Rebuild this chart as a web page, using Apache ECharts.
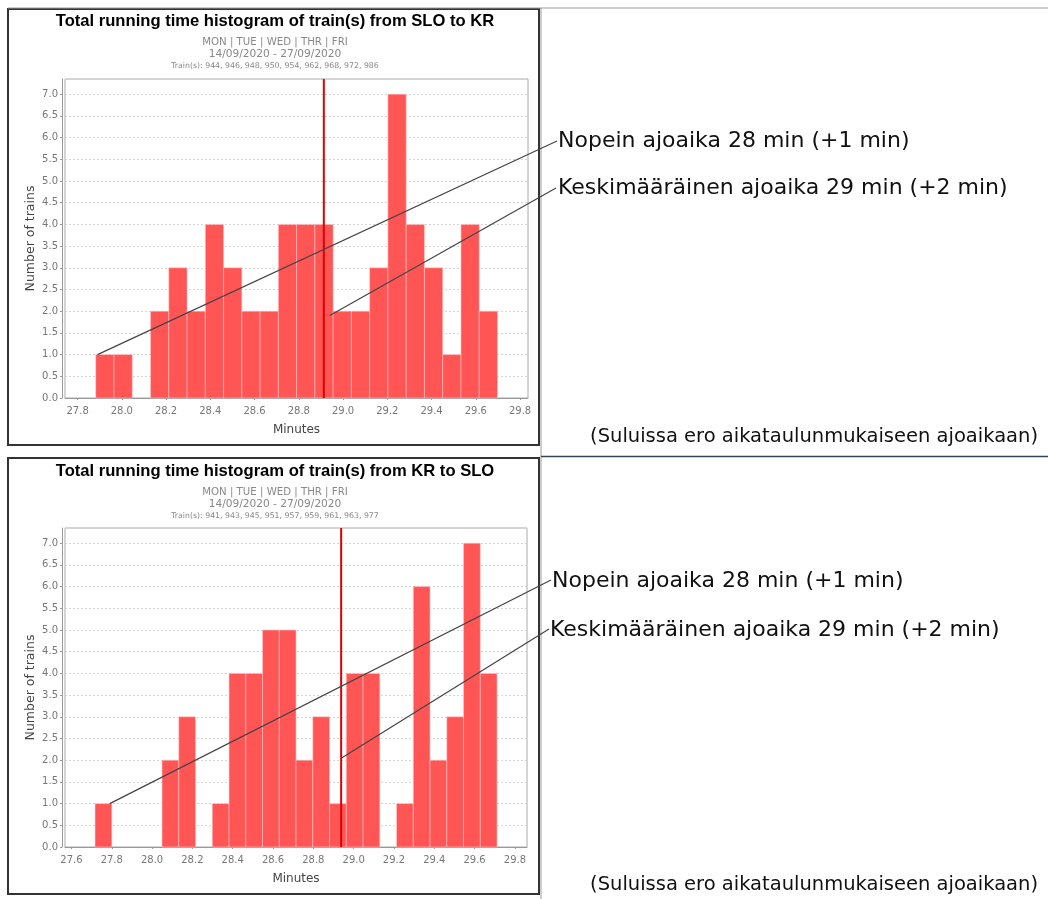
<!DOCTYPE html>
<html>
<head>
<meta charset="utf-8">
<script src="https://cdn.jsdelivr.net/npm/echarts@6/dist/echarts.min.js"></script>
<style>
html,body{margin:0;padding:0;background:#fff;}
#c{width:1048px;height:899px;}
</style>
</head>
<body>
<div id="c"></div>
<script>
// ---------- data ----------
const topTitle = "Total running time histogram of train(s) from SLO to KR";
const botTitle = "Total running time histogram of train(s) from KR to SLO";
const daysText = "MON | TUE | WED | THR | FRI";
const dateText = "14/09/2020 - 27/09/2020";
const topTrains = "Train(s): 944, 946, 948, 950, 954, 962, 968, 972, 986";
const botTrains = "Train(s): 941, 943, 945, 951, 957, 959, 961, 963, 977";

const topBinStart = 27.882;
const topBinWidth = 0.08255;
const topCounts = [1, 1, 0, 2, 3, 2, 4, 3, 2, 2, 4, 4, 4, 2, 2, 3, 7, 4, 3, 1, 4, 2];
const topMeanLine = 28.913;

const botBinStart = 27.717;
const botBinWidth = 0.0831;
const botCounts = [1, 0, 0, 0, 2, 3, 0, 1, 4, 4, 5, 5, 2, 3, 1, 4, 4, 0, 1, 6, 2, 3, 7, 4];
const botMeanLine = 28.938;

const topXTicks = [27.8, 28.0, 28.2, 28.4, 28.6, 28.8, 29.0, 29.2, 29.4, 29.6, 29.8];
const botXTicks = [27.6, 27.8, 28.0, 28.2, 28.4, 28.6, 28.8, 29.0, 29.2, 29.4, 29.6, 29.8];
const topXRange = [27.743, 29.836];
const botXRange = [27.568, 29.86];
const yMax = 7.35;

const noteFast = "Nopein ajoaika 28 min (+1 min)";
const noteMean = "Keskimääräinen ajoaika 29 min (+2 min)";
const noteParen = "(Suluissa ero aikataulunmukaiseen ajoaikaan)";
// anchor points of leader lines, in data units [minutes, trains]
const topAnchors = [[27.89, 1.0], [28.94, 1.9]];
const botAnchors = [[27.79, 1.0], [28.94, 2.05]];

// ---------- build ----------
function bins(start, w, counts) {
  return counts.map((c, i) => [start + i * w, start + (i + 1) * w, c]);
}

const chart = echarts.init(document.getElementById('c'), null, {renderer: 'canvas'});

const FONT = 'DejaVu Sans';
function xAxisFor(gi, range, ticks) {
  return {
    type: 'value', gridIndex: gi, min: range[0], max: range[1],
    offset: 3,
    name: 'Minutes', nameLocation: 'middle', nameGap: 23,
    nameTextStyle: {color: '#444', fontFamily: FONT, fontSize: 12},
    axisLine: {show: true, lineStyle: {color: '#999', width: 1}},
    axisTick: {show: true, customValues: ticks, length: 2, lineStyle: {color: '#999'}},
    axisLabel: {customValues: ticks, color: '#777', fontFamily: FONT, fontSize: 10, margin: 5,
      formatter: v => Number(v).toFixed(1)},
    splitLine: {show: false}
  };
}
function yAxisFor(gi) {
  return {
    type: 'value', gridIndex: gi, min: 0, max: yMax, interval: 0.5,
    offset: 3,
    name: 'Number of trains', nameLocation: 'middle', nameGap: 25,
    nameTextStyle: {color: '#444', fontFamily: FONT, fontSize: 12.5},
    axisLine: {show: true, lineStyle: {color: '#999', width: 1}},
    axisTick: {show: true, length: 2, lineStyle: {color: '#999'}},
    axisLabel: {color: '#777', fontFamily: FONT, fontSize: 10, margin: 4, showMaxLabel: false,
      formatter: v => Number(v).toFixed(1)},
    splitLine: {show: true, lineStyle: {color: '#d4d4d4', type: [2, 2], width: 1}}
  };
}
function histSeries(gi, data) {
  return {
    type: 'custom', xAxisIndex: gi, yAxisIndex: gi,
    data: data, encode: {x: [0, 1], y: 2},
    renderItem: function (params, api) {
      const c = api.value(2);
      if (!c) return null;
      const p0 = api.coord([api.value(0), c]);
      const p1 = api.coord([api.value(1), 0]);
      return {type: 'rect',
        shape: {x: p0[0], y: p0[1], width: p1[0] - p0[0], height: p1[1] - p0[1]},
        style: {fill: '#ff5555', stroke: 'rgba(255,200,200,0.7)', lineWidth: 0.8}};
    },
    silent: true, z: 2
  };
}
function meanSeries(gi, x) {
  return {
    type: 'line', xAxisIndex: gi, yAxisIndex: gi,
    data: [[x, 0], [x, yMax]], symbol: 'none', silent: true, z: 3,
    lineStyle: {color: '#e00000', width: 2}
  };
}

chart.setOption({
  animation: false,
  backgroundColor: '#fff',
  grid: [
    {left: 65, top: 79, width: 463, height: 319, show: true, backgroundColor: '#fff', borderColor: '#aaa', borderWidth: 1},
    {left: 65, top: 528, width: 462, height: 319, show: true, backgroundColor: '#fff', borderColor: '#aaa', borderWidth: 1}
  ],
  xAxis: [xAxisFor(0, topXRange, topXTicks), xAxisFor(1, botXRange, botXTicks)],
  yAxis: [yAxisFor(0), yAxisFor(1)],
  series: [
    histSeries(0, bins(topBinStart, topBinWidth, topCounts)),
    meanSeries(0, topMeanLine),
    histSeries(1, bins(botBinStart, botBinWidth, botCounts)),
    meanSeries(1, botMeanLine)
  ]
});

// ---------- decorations ----------
function txt(x, y, s, size, color, opts) {
  opts = opts || {};
  return {type: 'text', x: x, y: y, z: 20, silent: true,
    style: {text: s, fill: color, fontSize: size, fontFamily: opts.family || FONT,
      fontWeight: opts.weight || 'normal', align: opts.align || 'left', verticalAlign: 'middle'}};
}
function ln(x1, y1, x2, y2, color, w) {
  return {type: 'line', z: 15, silent: true, shape: {x1: x1, y1: y1, x2: x2, y2: y2},
    style: {stroke: color, lineWidth: w}};
}
function header(yOff, title, trains) {
  return [
    txt(275, yOff + 21, title, 16.6, '#000', {align: 'center', weight: 'bold', family: 'Liberation Sans'}),
    txt(275, yOff + 42.5, daysText, 10.2, '#888', {align: 'center'}),
    txt(275, yOff + 54.5, dateText, 10.6, '#888', {align: 'center'}),
    txt(275, yOff + 65.5, trains, 7.8, '#888', {align: 'center'})
  ];
}

const g = [];
// table / frame lines
g.push(ln(8, 8, 1048, 8, '#999', 1));
g.push(ln(541, 8, 541, 899, '#999', 1));
g.push(ln(541, 456.5, 1048, 456.5, '#34435a', 1.5));
g.push({type: 'rect', z: 14, silent: true, shape: {x: 8, y: 9, width: 531, height: 436},
  style: {fill: 'none', stroke: '#333', lineWidth: 2}});
g.push({type: 'rect', z: 14, silent: true, shape: {x: 8, y: 458, width: 531, height: 436},
  style: {fill: 'none', stroke: '#333', lineWidth: 2}});

g.push(...header(0, topTitle, topTrains));
g.push(...header(450, botTitle, botTrains));

// annotations
const ta = topAnchors.map(p => chart.convertToPixel({gridIndex: 0}, p));
const ba = botAnchors.map(p => chart.convertToPixel({gridIndex: 1}, p));
g.push(ln(ta[0][0], ta[0][1], 557, 141, '#444', 1.2));
g.push(ln(ta[1][0], ta[1][1], 556, 188, '#444', 1.2));
g.push(ln(ba[0][0], ba[0][1], 551, 580, '#444', 1.2));
g.push(ln(ba[1][0], ba[1][1], 549, 629, '#444', 1.2));

g.push(txt(558, 141, noteFast, 22, '#111'));
g.push(txt(558, 188, noteMean, 22, '#111'));
g.push(txt(552, 581, noteFast, 22, '#111'));
g.push(txt(550, 630, noteMean, 22, '#111'));
g.push(txt(1038, 437, noteParen, 19.5, '#111', {align: 'right'}));
g.push(txt(1038, 885, noteParen, 19.5, '#111', {align: 'right'}));

chart.setOption({graphic: g});
</script>
</body>
</html>
